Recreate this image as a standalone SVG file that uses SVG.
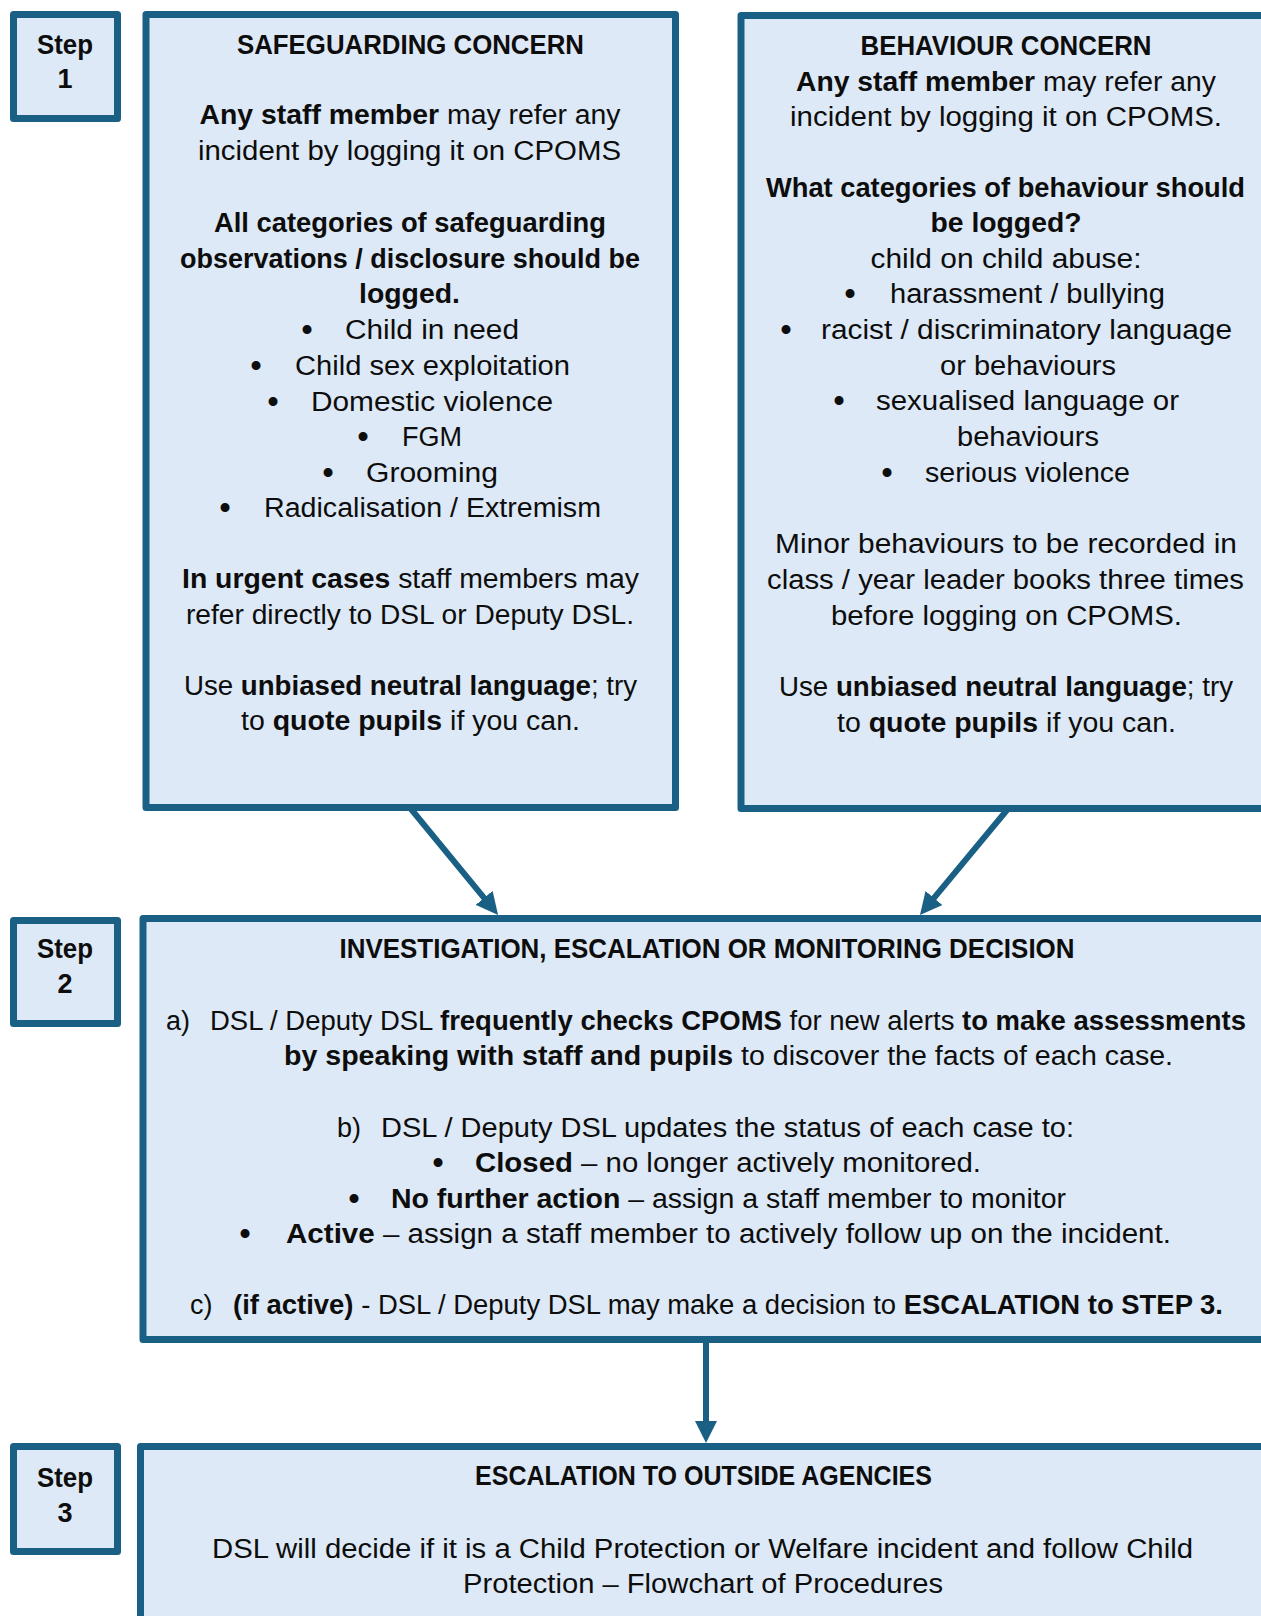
<svg xmlns="http://www.w3.org/2000/svg" width="1261" height="1616" viewBox="0 0 1261 1616">
<style>
.t{font-family:"Liberation Sans",Arial,sans-serif;font-size:27px;fill:#0d0d0d}
.c{text-anchor:middle}
.bd{font-weight:bold}
.bl{font-size:33px}
.box{fill:#dde9f6;stroke:#1a6084;stroke-width:7;stroke-linejoin:round}
.conn{stroke:#1a6084;stroke-width:6;fill:none}
</style>
<defs>
<marker id="ah" markerUnits="userSpaceOnUse" viewBox="0 0 22 22" markerWidth="22" markerHeight="22" refX="8" refY="11" orient="auto">
<path d="M0,0 L22,11 L0,22 z" fill="#1a6084"/>
</marker>
</defs>
<rect width="1261" height="1616" fill="#ffffff"/>

<g id="step1">
<rect class="box" x="13.5" y="14.5" width="104" height="104"/>
<text class="t c bd" x="65" y="54" textLength="56" lengthAdjust="spacingAndGlyphs">Step</text>
<text class="t c bd" x="65" y="88">1</text>
</g>

<g id="safeguarding">
<rect class="box" x="146" y="14.5" width="529.5" height="793"/>
<text class="t c bd" x="410.5" y="54" textLength="347" lengthAdjust="spacingAndGlyphs">SAFEGUARDING CONCERN</text>
<text class="t c" x="410" y="124" textLength="421" lengthAdjust="spacingAndGlyphs"><tspan class="bd">Any staff member</tspan> may refer any</text>
<text class="t c" x="409.5" y="160" textLength="423" lengthAdjust="spacingAndGlyphs">incident by logging it on CPOMS</text>
<text class="t c bd" x="410" y="232" textLength="392" lengthAdjust="spacingAndGlyphs">All categories of safeguarding</text>
<text class="t c bd" x="410" y="268" textLength="460" lengthAdjust="spacingAndGlyphs">observations / disclosure should be</text>
<text class="t c bd" x="409.5" y="303" textLength="101" lengthAdjust="spacingAndGlyphs">logged.</text>
<text class="t c bl" x="307" y="341">•</text>
<text class="t" x="345" y="339" textLength="174" lengthAdjust="spacingAndGlyphs">Child in need</text>
<text class="t c bl" x="256" y="377">•</text>
<text class="t" x="295" y="375" textLength="275" lengthAdjust="spacingAndGlyphs">Child sex exploitation</text>
<text class="t c bl" x="273" y="413">•</text>
<text class="t" x="311" y="411" textLength="242" lengthAdjust="spacingAndGlyphs">Domestic violence</text>
<text class="t c bl" x="363" y="448">•</text>
<text class="t" x="402" y="446" textLength="60" lengthAdjust="spacingAndGlyphs">FGM</text>
<text class="t c bl" x="328" y="484">•</text>
<text class="t" x="366" y="482" textLength="132" lengthAdjust="spacingAndGlyphs">Grooming</text>
<text class="t c bl" x="225" y="519">•</text>
<text class="t" x="264" y="517" textLength="337" lengthAdjust="spacingAndGlyphs">Radicalisation / Extremism</text>
<text class="t c" x="410.5" y="588" textLength="457" lengthAdjust="spacingAndGlyphs"><tspan class="bd">In urgent cases</tspan> staff members may</text>
<text class="t c" x="410" y="624" textLength="448" lengthAdjust="spacingAndGlyphs">refer directly to DSL or Deputy DSL.</text>
<text class="t c" x="410.5" y="695" textLength="453" lengthAdjust="spacingAndGlyphs">Use <tspan class="bd">unbiased neutral language</tspan>; try</text>
<text class="t c" x="410.5" y="730" textLength="339" lengthAdjust="spacingAndGlyphs">to <tspan class="bd">quote pupils</tspan> if you can.</text>
</g>

<g id="behaviour">
<rect class="box" x="741" y="15.5" width="540" height="793"/>
<text class="t c bd" x="1006" y="55" textLength="291" lengthAdjust="spacingAndGlyphs">BEHAVIOUR CONCERN</text>
<text class="t c" x="1006" y="91" textLength="420" lengthAdjust="spacingAndGlyphs"><tspan class="bd">Any staff member</tspan> may refer any</text>
<text class="t c" x="1006" y="126" textLength="432" lengthAdjust="spacingAndGlyphs">incident by logging it on CPOMS.</text>
<text class="t c bd" x="1005.5" y="197" textLength="479" lengthAdjust="spacingAndGlyphs">What categories of behaviour should</text>
<text class="t c bd" x="1006" y="232" textLength="151" lengthAdjust="spacingAndGlyphs">be logged?</text>
<text class="t c" x="1006" y="268" textLength="271" lengthAdjust="spacingAndGlyphs">child on child abuse:</text>
<text class="t c bl" x="850" y="305">•</text>
<text class="t" x="890" y="303" textLength="275" lengthAdjust="spacingAndGlyphs">harassment / bullying</text>
<text class="t c bl" x="786" y="341">•</text>
<text class="t" x="821" y="339" textLength="411" lengthAdjust="spacingAndGlyphs">racist / discriminatory language</text>
<text class="t c" x="1028" y="375" textLength="176" lengthAdjust="spacingAndGlyphs">or behaviours</text>
<text class="t c bl" x="839" y="412">•</text>
<text class="t" x="876" y="410" textLength="303" lengthAdjust="spacingAndGlyphs">sexualised language or</text>
<text class="t c" x="1028" y="446" textLength="142" lengthAdjust="spacingAndGlyphs">behaviours</text>
<text class="t c bl" x="887" y="484">•</text>
<text class="t" x="925" y="482" textLength="205" lengthAdjust="spacingAndGlyphs">serious violence</text>
<text class="t c" x="1006" y="553" textLength="462" lengthAdjust="spacingAndGlyphs">Minor behaviours to be recorded in</text>
<text class="t c" x="1005.5" y="589" textLength="477" lengthAdjust="spacingAndGlyphs">class / year leader books three times</text>
<text class="t c" x="1006.5" y="625" textLength="351" lengthAdjust="spacingAndGlyphs">before logging on CPOMS.</text>
<text class="t c" x="1006" y="696" textLength="454" lengthAdjust="spacingAndGlyphs">Use <tspan class="bd">unbiased neutral language</tspan>; try</text>
<text class="t c" x="1006.5" y="732" textLength="339" lengthAdjust="spacingAndGlyphs">to <tspan class="bd">quote pupils</tspan> if you can.</text>
</g>

<g id="step2">
<rect class="box" x="13.5" y="920.5" width="104" height="103"/>
<text class="t c bd" x="65" y="958" textLength="56" lengthAdjust="spacingAndGlyphs">Step</text>
<text class="t c bd" x="65" y="993">2</text>
</g>

<g id="investigation">
<rect class="box" x="143" y="918.5" width="1140" height="421"/>
<text class="t c bd" x="707" y="958" textLength="735" lengthAdjust="spacingAndGlyphs">INVESTIGATION, ESCALATION OR MONITORING DECISION</text>
<text class="t" x="166" y="1030">a)</text>
<text class="t" x="210" y="1030" textLength="1036" lengthAdjust="spacingAndGlyphs">DSL / Deputy DSL <tspan class="bd">frequently checks CPOMS</tspan> for new alerts <tspan class="bd">to make assessments</tspan></text>
<text class="t" x="284" y="1065" textLength="889" lengthAdjust="spacingAndGlyphs"><tspan class="bd">by speaking with staff and pupils</tspan> to discover the facts of each case.</text>
<text class="t" x="337" y="1137">b)</text>
<text class="t" x="381" y="1137" textLength="693" lengthAdjust="spacingAndGlyphs">DSL / Deputy DSL updates the status of each case to:</text>
<text class="t c bl" x="438" y="1174">•</text>
<text class="t" x="475" y="1172" textLength="506" lengthAdjust="spacingAndGlyphs"><tspan class="bd">Closed</tspan> – no longer actively monitored.</text>
<text class="t c bl" x="354" y="1210">•</text>
<text class="t" x="391" y="1208" textLength="675" lengthAdjust="spacingAndGlyphs"><tspan class="bd">No further action</tspan> – assign a staff member to monitor</text>
<text class="t c bl" x="245" y="1245">•</text>
<text class="t" x="286" y="1243" textLength="885" lengthAdjust="spacingAndGlyphs"><tspan class="bd">Active</tspan> – assign a staff member to actively follow up on the incident.</text>
<text class="t" x="190" y="1314">c)</text>
<text class="t" x="233" y="1314" textLength="990" lengthAdjust="spacingAndGlyphs"><tspan class="bd">(if active)</tspan> - DSL / Deputy DSL may make a decision to <tspan class="bd">ESCALATION to STEP 3.</tspan></text>
</g>

<g id="step3">
<rect class="box" x="13.5" y="1446.5" width="104" height="105"/>
<text class="t c bd" x="65" y="1487" textLength="56" lengthAdjust="spacingAndGlyphs">Step</text>
<text class="t c bd" x="65" y="1522">3</text>
</g>

<g id="escalation">
<rect class="box" x="140.5" y="1446.5" width="1140" height="200"/>
<text class="t c bd" x="703.5" y="1485" textLength="457" lengthAdjust="spacingAndGlyphs">ESCALATION TO OUTSIDE AGENCIES</text>
<text class="t c" x="702.5" y="1558" textLength="981" lengthAdjust="spacingAndGlyphs">DSL will decide if it is a Child Protection or Welfare incident and follow Child</text>
<text class="t c" x="703" y="1593" textLength="480" lengthAdjust="spacingAndGlyphs">Protection – Flowchart of Procedures</text>
</g>

<g id="connectors">
<line class="conn" x1="411" y1="809" x2="489.2" y2="904.1" marker-end="url(#ah)"/>
<line class="conn" x1="1007" y1="810" x2="928.9" y2="904.2" marker-end="url(#ah)"/>
<line class="conn" x1="706" y1="1341" x2="706" y2="1429" marker-end="url(#ah)"/>
</g>
</svg>
